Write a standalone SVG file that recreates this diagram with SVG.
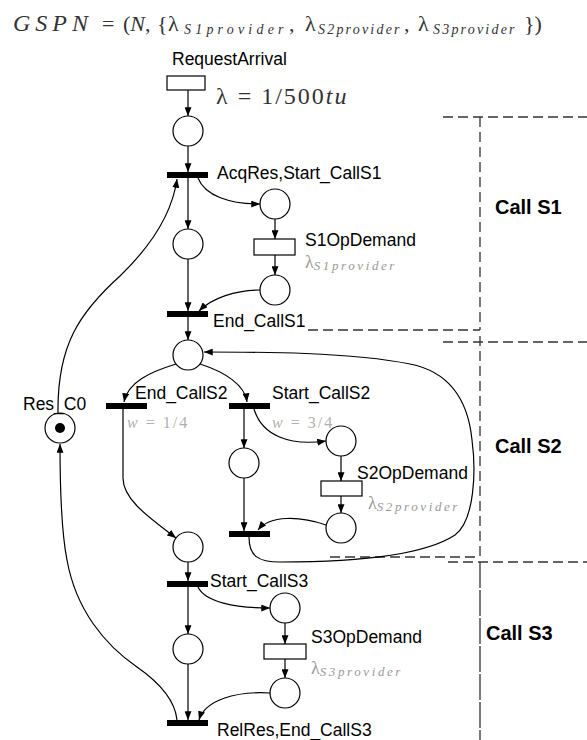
<svg xmlns="http://www.w3.org/2000/svg" width="587" height="740" viewBox="0 0 587 740">
<defs>
<marker id="arr" viewBox="0 0 10 8" markerWidth="9" markerHeight="7" refX="10" refY="4" orient="auto" markerUnits="userSpaceOnUse">
<path d="M0,0 L10,4 L0,8 z" fill="#000"/>
</marker>
<style>
.pl{fill:#fff;stroke:#000;stroke-width:1.2}
.bar{fill:#000}
.tt{fill:#fff;stroke:#000;stroke-width:1.2}
.lb{font-family:"Liberation Sans",Arial,sans-serif;font-size:17.5px;fill:#000}
.cl{font-family:"Liberation Sans",Arial,sans-serif;font-size:20px;font-weight:bold;fill:#000}
.mt{font-family:"Liberation Serif","Times New Roman",serif;fill:#333}
.lam{font-family:"Liberation Serif","Times New Roman",serif;fill:#999}
.sub{font-style:italic;font-size:13px;letter-spacing:2.6px}
.fsub{font-style:italic;font-size:14px;letter-spacing:2.2px}
.fsub1{font-style:italic;font-size:14px;letter-spacing:4.2px}
.w{font-family:"Liberation Serif","Times New Roman",serif;font-size:16px;letter-spacing:2px;fill:#b0b0b0}
.arc{fill:none;stroke:#000;stroke-width:1.2}
.arcA{fill:none;stroke:#000;stroke-width:1.2;marker-end:url(#arr)}
.box{fill:none;stroke:#333;stroke-width:1.3;stroke-dasharray:10 5}
.box3{fill:none;stroke:#333;stroke-width:1.3;stroke-dasharray:26 2}
</style>
</defs>
<rect width="587" height="740" fill="#fff"/>

<g id="formula">
<text class="mt" y="31" font-size="22">
<tspan x="13" font-style="italic" letter-spacing="5" font-size="24">GSPN</tspan>
<tspan x="102">=</tspan>
<tspan x="123">(</tspan><tspan font-style="italic">N</tspan><tspan>,</tspan>
<tspan x="157">{</tspan>
<tspan x="168">λ</tspan><tspan class="fsub1" x="184" dy="3">S1provider</tspan><tspan x="289" dy="-3">,</tspan>
<tspan x="305">λ</tspan><tspan class="fsub" x="318" dy="3">S2provider</tspan><tspan x="404" dy="-3">,</tspan>
<tspan x="418">λ</tspan><tspan class="fsub" x="433" dy="3">S3provider</tspan>
<tspan x="524" dy="-3">})</tspan>
</text>
</g>

<g id="regions">
<path class="box" d="M443,117 H587 M480,117 V330 M308,330 H480"/>
<text class="cl" x="495" y="214">Call S1</text>
<path class="box" d="M443,342 H587 M480,336 V558 M330,557 H480"/>
<text class="cl" x="495" y="453">Call S2</text>
<path class="box" d="M448,562 H587"/>
<path class="box3" d="M480,562 V740"/>
<text class="cl" x="486" y="640">Call S3</text>
</g>

<g id="connectors">
<path class="arcA" d="M188,90 V116"/>
<path class="arcA" d="M188,146 V172"/>
<path class="arcA" d="M188,178 V229"/>
<path class="arcA" d="M198,178 C205,196 230,204 260,204"/>
<path class="arcA" d="M275,219 V239"/>
<path class="arcA" d="M275,255 V275"/>
<path class="arcA" d="M260,290 C236,290 212,298 199,311"/>
<path class="arcA" d="M188,259 V311"/>
<path class="arcA" d="M188,317 V340"/>
<path class="arcA" d="M58,413 C57,345 80,312 120,276 C150,247 172,215 177,179"/>
<path class="arcA" d="M177,720 C175,700 160,683 137,667 C105,645 76,610 67,560 C61,530 60,480 60,444"/>
<path class="arcA" d="M176,364 C150,372 128,382 124,402"/>
<path class="arcA" d="M200,364 C225,372 245,385 247,402"/>
<path class="arcA" d="M244,409 V448"/>
<path class="arcA" d="M254,409 C262,436 290,446 326,441"/>
<path class="arcA" d="M341,456 V481"/>
<path class="arcA" d="M341,496 V513"/>
<path class="arcA" d="M326,525 C300,516 270,515 258,530"/>
<path class="arcA" d="M244,478 V531"/>
<path class="arcA" d="M249,537 C249,556 258,562 280,562 C340,562 420,558 455,535 C475,520 476,470 472,440 C468,400 450,372 410,364 C350,352 260,352 204,352"/>
<path class="arcA" d="M123,409 V478 C123,500 150,518 176,538"/>
<path class="arcA" d="M188,562 V581"/>
<path class="arcA" d="M188,587 V634"/>
<path class="arcA" d="M198,587 C205,602 235,608 270,608"/>
<path class="arcA" d="M285,623 V644"/>
<path class="arcA" d="M285,659 V678"/>
<path class="arcA" d="M270,693 C236,691 205,700 199,720"/>
<path class="arcA" d="M188,664 V720"/>
</g>

<g id="t_RequestArrival">
<rect class="tt" x="167" y="76" width="38" height="14"/>
<text class="lb" x="172" y="65">RequestArrival</text>
<text class="mt" x="216" y="104" font-size="24" letter-spacing="2">λ = 1/500<tspan font-style="italic">tu</tspan></text>
</g>
<g id="p_Arrived"><circle class="pl" cx="188" cy="131" r="15"/></g>
<g id="t_AcqRes">
<rect class="bar" x="167" y="172" width="41" height="6"/>
<text class="lb" x="217" y="179">AcqRes,Start_CallS1</text>
</g>
<g id="p_S1Wait"><circle class="pl" cx="188" cy="244" r="15"/></g>
<g id="p_S1Req"><circle class="pl" cx="275" cy="204" r="15"/></g>
<g id="t_S1OpDemand">
<rect class="tt" x="254" y="239" width="41" height="16"/>
<text class="lb" x="305" y="246">S1OpDemand</text>
<text class="lam" x="305" y="268" font-size="18">λ<tspan class="sub" dy="2">S1provider</tspan></text>
</g>
<g id="p_S1Done"><circle class="pl" cx="275" cy="290" r="15"/></g>
<g id="t_End_CallS1">
<rect class="bar" x="167" y="311" width="41" height="6"/>
<text class="lb" x="213" y="327">End_CallS1</text>
</g>
<g id="p_Junction"><circle class="pl" cx="188" cy="355" r="15"/></g>
<g id="p_Res_C0">
<circle class="pl" cx="60" cy="428" r="15"/>
<circle cx="60" cy="428" r="5" fill="#000"/>
<text class="lb" x="23" y="410">Res_C0</text>
</g>
<g id="t_End_CallS2">
<rect class="bar" x="106" y="403" width="41" height="6"/>
<text class="lb" x="135" y="399">End_CallS2</text>
<text class="w" x="127" y="428"><tspan font-style="italic">w</tspan> = 1/4</text>
</g>
<g id="t_Start_CallS2">
<rect class="bar" x="229" y="403" width="41" height="6"/>
<text class="lb" x="272" y="399">Start_CallS2</text>
<text class="w" x="272" y="428"><tspan font-style="italic">w</tspan> = 3/4</text>
</g>
<g id="p_S2Wait"><circle class="pl" cx="244" cy="463" r="15"/></g>
<g id="p_S2Req"><circle class="pl" cx="341" cy="441" r="15"/></g>
<g id="t_S2OpDemand">
<rect class="tt" x="321" y="481" width="41" height="15"/>
<text class="lb" x="357" y="479">S2OpDemand</text>
<text class="lam" x="368" y="509" font-size="18">λ<tspan class="sub" dy="2">S2provider</tspan></text>
</g>
<g id="p_S2Done"><circle class="pl" cx="341" cy="528" r="15"/></g>
<g id="t_S2Join"><rect class="bar" x="229" y="531" width="41" height="6"/></g>
<g id="p_S3In"><circle class="pl" cx="188" cy="547" r="15"/></g>
<g id="t_Start_CallS3">
<rect class="bar" x="167" y="581" width="41" height="6"/>
<text class="lb" x="210" y="587">Start_CallS3</text>
</g>
<g id="p_S3Wait"><circle class="pl" cx="188" cy="649" r="15"/></g>
<g id="p_S3Req"><circle class="pl" cx="285" cy="608" r="15"/></g>
<g id="t_S3OpDemand">
<rect class="tt" x="264" y="644" width="42" height="15"/>
<text class="lb" x="311" y="643">S3OpDemand</text>
<text class="lam" x="311" y="674" font-size="18" fill="#888">λ<tspan class="sub" dy="2">S3provider</tspan></text>
</g>
<g id="p_S3Done"><circle class="pl" cx="285" cy="693" r="15"/></g>
<g id="t_RelRes">
<rect class="bar" x="167" y="720" width="41" height="6"/>
<text class="lb" x="217" y="736">RelRes,End_CallS3</text>
</g>
</svg>
